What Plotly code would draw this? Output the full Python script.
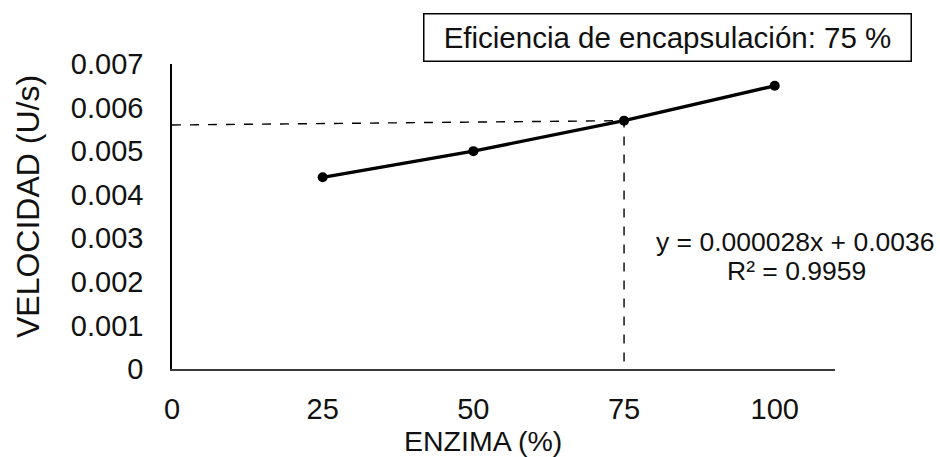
import plotly.graph_objects as go

# Enzyme load (%) vs reaction velocity (U/s)
enzima = [25, 50, 75, 100]
velocidad = [0.0044, 0.0050, 0.0057, 0.0065]

# Reading for 75 % encapsulation efficiency
guia_x = [0, 75, 75]
guia_y = [0.0056, 0.0057, 0]

x_ticks = [0, 25, 50, 75, 100]
y_ticks = [0, 0.001, 0.002, 0.003, 0.004, 0.005, 0.006, 0.007]
y_tick_text = ["0", "0.001", "0.002", "0.003", "0.004", "0.005", "0.006", "0.007"]

ecuacion = "y = 0.000028x + 0.0036"
r2 = "R² = 0.9959"
titulo = "Eficiencia de encapsulación: 75 %"

W, H = 940, 457
L, R, T, B = 172, 105, 64, 88
PW, PH = W - L - R, H - T - B


def px(x):
    return (x - L) / PW


def py(y):
    return (H - B - y) / PH


FONT = "Liberation Sans, Arial, sans-serif"
INK = "#111111"

fig = go.Figure()

fig.add_trace(go.Scatter(
    x=guia_x, y=guia_y, mode="lines",
    line=dict(color="black", width=1.4, dash="dash"),
    hoverinfo="skip", showlegend=False,
))

fig.add_trace(go.Scatter(
    x=enzima, y=velocidad, mode="lines+markers",
    line=dict(color="black", width=3.3),
    marker=dict(color="black", size=10, symbol="circle"),
    showlegend=False,
))

fig.update_layout(
    width=W, height=H,
    margin=dict(l=L, r=R, t=T, b=B, pad=0),
    paper_bgcolor="white", plot_bgcolor="white",
    font=dict(family=FONT, size=29, color=INK),
    xaxis=dict(
        range=[0, 110], tickvals=x_ticks, showgrid=False, zeroline=False,
        showline=True, linecolor="#3a3a3a", linewidth=2, ticks="",
        ticklabelstandoff=13, tickfont=dict(size=29, color=INK),
    ),
    yaxis=dict(
        range=[0, 0.007], tickvals=y_ticks, ticktext=y_tick_text,
        showgrid=False, zeroline=False,
        showline=True, linecolor="black", linewidth=1.5, ticks="",
        ticklabelstandoff=21, tickfont=dict(size=29, color=INK),
    ),
    annotations=[
        dict(text=titulo, xref="paper", yref="paper", x=px(667.5), y=py(37.5),
             xanchor="center", yanchor="middle", showarrow=False,
             font=dict(size=29.5, color=INK), bordercolor="black",
             borderwidth=1.5, borderpad=0, width=486, height=46,
             bgcolor="white"),
        dict(text=ecuacion, xref="paper", yref="paper", x=px(795), y=py(242),
             xanchor="center", yanchor="middle", showarrow=False,
             font=dict(size=26.5, color=INK)),
        dict(text=r2, xref="paper", yref="paper", x=px(796), y=py(271),
             xanchor="center", yanchor="middle", showarrow=False,
             font=dict(size=26.5, color=INK)),
        dict(text="VELOCIDAD (U/s)", xref="paper", yref="paper", x=px(28),
             y=py(207), xanchor="center", yanchor="middle", textangle=-90,
             showarrow=False, font=dict(size=32, color=INK)),
        dict(text="ENZIMA (%)", xref="paper", yref="paper", x=px(483),
             y=py(423), xanchor="center", yanchor="top", showarrow=False,
             font=dict(size=28.5, color=INK)),
    ],
)

fig.write_html("out.html")
